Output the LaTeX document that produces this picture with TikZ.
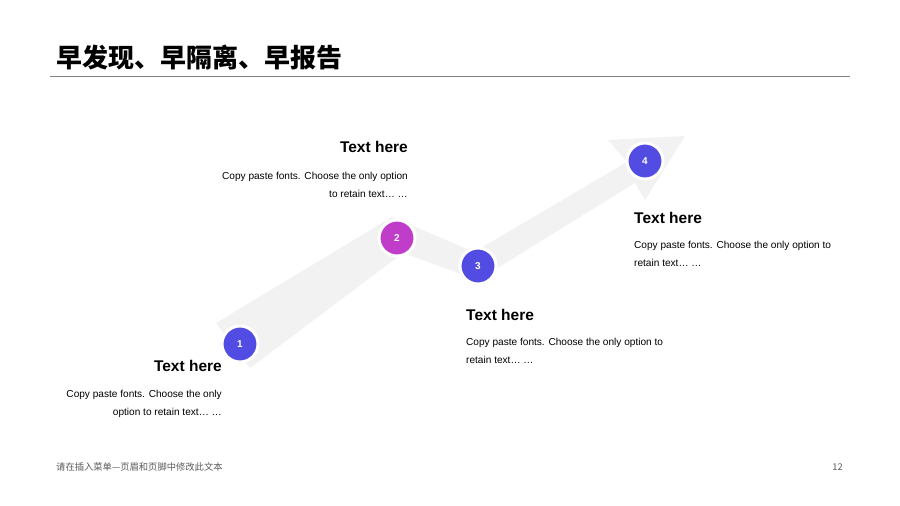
\documentclass[tikz,border=0pt]{standalone}
\usepackage{fontspec}
\setmainfont{Liberation Sans}
\newfontfamily\cjkfont{Noto Sans CJK SC}
\usepackage{xcolor}
\usetikzlibrary{positioning}
\definecolor{dotblue}{HTML}{524CE3}
\definecolor{dotpurple}{HTML}{C03DC9}
\definecolor{bandgray}{HTML}{F2F2F2}
\definecolor{footgray}{HTML}{595959}
\tikzset{%
	dot/.style      = {circle, draw=white, line width=3pt, minimum size=36pt, inner sep=0pt, text=white, font=\fontsize{10}{10}\selectfont\bfseries},
	heading/.style  = {inner sep=0pt, font=\fontsize{15.5}{18}\selectfont\bfseries},
	body/.style     = {inner sep=0pt, font=\fontsize{10.1}{18}\selectfont},
	footer/.style   = {inner sep=0pt, text=footgray, font=\cjkfont\fontsize{9.3}{10}\selectfont},
}

\begin{document}
\begin{tikzpicture}[x=1pt,y=-1pt]
	\useasboundingbox (0,0) rectangle (900,506);
	\node [anchor=base west, inner sep=0pt, font=\cjkfont\bfseries\fontsize{26}{28}\selectfont] (title) at (56,67) {早发现、早隔离、早报告};
	\draw [color=gray, line width=0.8pt] (50,76) -- (850,76);
	
	% band
	\fill [bandgray] (216,323) -- (392,217) -- (474,252) -- (627,162) -- (608,140) -- (685,136) -- (645,200) -- (635,183) -- (478,280) -- (403,253) -- (250,368) -- cycle;
	
	\node [dot, fill=dotblue] (s1) at (240,344) {1};
	\node [dot, fill=dotpurple] (s2) at (397,238) {2};
	\node [dot, fill=dotblue] (s3) at (478,266) {3};
	\node [dot, fill=dotblue] (s4) at (645,161) {4};
	
	\node [heading, anchor=base east] (h1) at (222,371) {Text here};
	\node [body, anchor=north east, align=right] (b1) at (222,389.5) {Copy paste fonts. Choose the only\\option to retain text… …};
	\node [heading, anchor=base east] (h2) at (408,152) {Text here};
	\node [body, anchor=north east, align=right] (b2) at (408,171.5) {Copy paste fonts. Choose the only option\\to retain text… …};
	\node [heading, anchor=base west] (h3) at (466,320.5) {Text here};
	\node [body, anchor=north west, align=left] (b3) at (466,337.5) {Copy paste fonts. Choose the only option to\\retain text… …};
	\node [heading, anchor=base west] (h4) at (634,223.5) {Text here};
	\node [body, anchor=north west, align=left] (b4) at (634,240.5) {Copy paste fonts. Choose the only option to\\retain text… …};
	
	\node [footer, anchor=base west] (foot) at (56,470.5) {请在插入菜单—页眉和页脚中修改此文本};
	\node [footer, anchor=base east] (page) at (843,470.5) {12};
\end{tikzpicture}
\end{document}
